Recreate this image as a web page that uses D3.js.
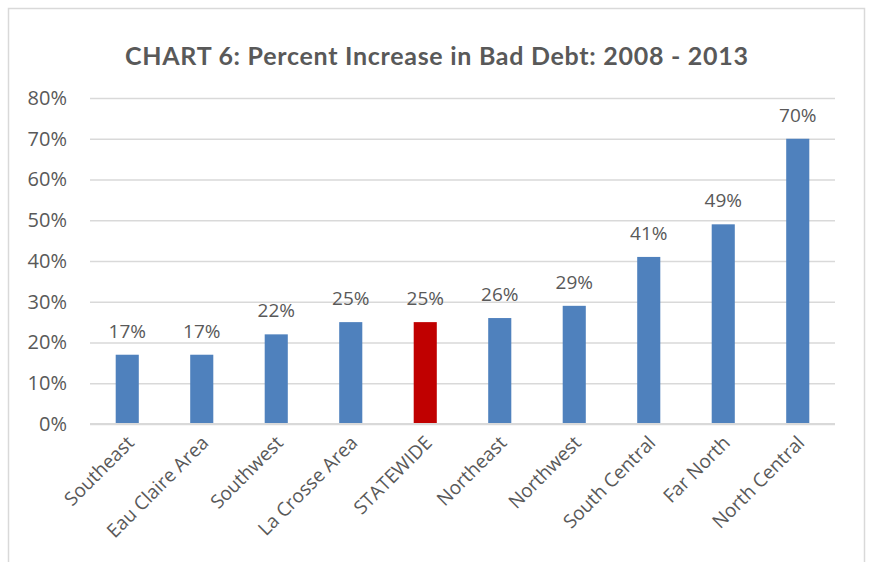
<!DOCTYPE html>
<html><head><meta charset="utf-8">
<script src="https://cdn.jsdelivr.net/npm/d3@7"></script>
<style>body{margin:0;background:#fff;}svg{display:block;}</style>
</head><body>
<svg id="c" width="869" height="562"></svg>
<script>
const categories = ["Southeast","Eau Claire Area","Southwest","La Crosse Area","STATEWIDE","Northeast","Northwest","South Central","Far North","North Central"];
const values = [17,17,22,25,25,26,29,41,49,70];
const highlight = ["STATEWIDE"];
const yTicks = [0,10,20,30,40,50,60,70,80];
const title = "CHART 6: Percent Increase in Bad Debt: 2008 - 2013";

const svg = d3.select("#c");
const W = 869, H = 562;
const m = {left:90, right:34, top:98, bottom:138};
const textCol = "#595959";
const font = "Open Sans, sans-serif";

svg.append("rect").attr("x",8.5).attr("y",8.5).attr("width",856).attr("height",H)
  .attr("fill","#fff").attr("stroke","#d9d9d9").attr("stroke-width",1.5);

const x = d3.scaleBand().domain(categories).range([m.left, W-m.right]).paddingInner(0.69).paddingOuter(0.345);
const y = d3.scaleLinear().domain([0,80]).range([H-m.bottom, m.top]);

// gridlines
const ax = d3.axisLeft(y).tickValues(yTicks).tickFormat(d=>d+"%").tickSize(-(W-m.right-m.left)).tickPadding(23);
const gy = svg.append("g").attr("transform",`translate(${m.left},0)`).call(ax);
gy.select(".domain").remove();
gy.selectAll(".tick line").attr("stroke","#d9d9d9").attr("stroke-width",1.3);
gy.selectAll(".tick text").attr("fill",textCol).attr("font-family",font).attr("font-size","20px");

// bars
svg.append("g").selectAll("rect").data(categories).join("rect")
  .attr("x",d=>x(d)).attr("width",x.bandwidth())
  .attr("y",(d,i)=>y(values[i])).attr("height",(d,i)=>y(0)-y(values[i]))
  .attr("fill",d=>highlight.includes(d)?"#C00000":"#4F81BD");

// axis line
svg.append("line").attr("x1",m.left).attr("x2",W-m.right).attr("y1",y(0)).attr("y2",y(0))
  .attr("stroke","#d9d9d9").attr("stroke-width",2);

// data labels
svg.append("g").selectAll("text").data(categories).join("text")
  .attr("x",d=>x(d)+x.bandwidth()/2).attr("y",(d,i)=>y(values[i])-17)
  .attr("text-anchor","middle").attr("fill",textCol)
  .attr("font-family",font).attr("font-size","19px")
  .text((d,i)=>values[i]+"%");

// x labels
svg.append("g").selectAll("text").data(categories).join("text")
  .attr("transform",d=>`translate(${x(d)+x.bandwidth()/2+8},${y(0)+20}) rotate(-45)`)
  .attr("text-anchor","end").attr("fill",textCol)
  .attr("font-family",font).attr("font-size","19px")
  .text(d=>d);

// title
svg.append("text").attr("x",436.5).attr("y",65).attr("text-anchor","middle")
  .attr("fill",textCol).attr("font-family","Lato, sans-serif").attr("font-weight","bold").attr("font-size","25px")
  .attr("textLength",623).attr("lengthAdjust","spacing")
  .text(title);
</script>
</body></html>
